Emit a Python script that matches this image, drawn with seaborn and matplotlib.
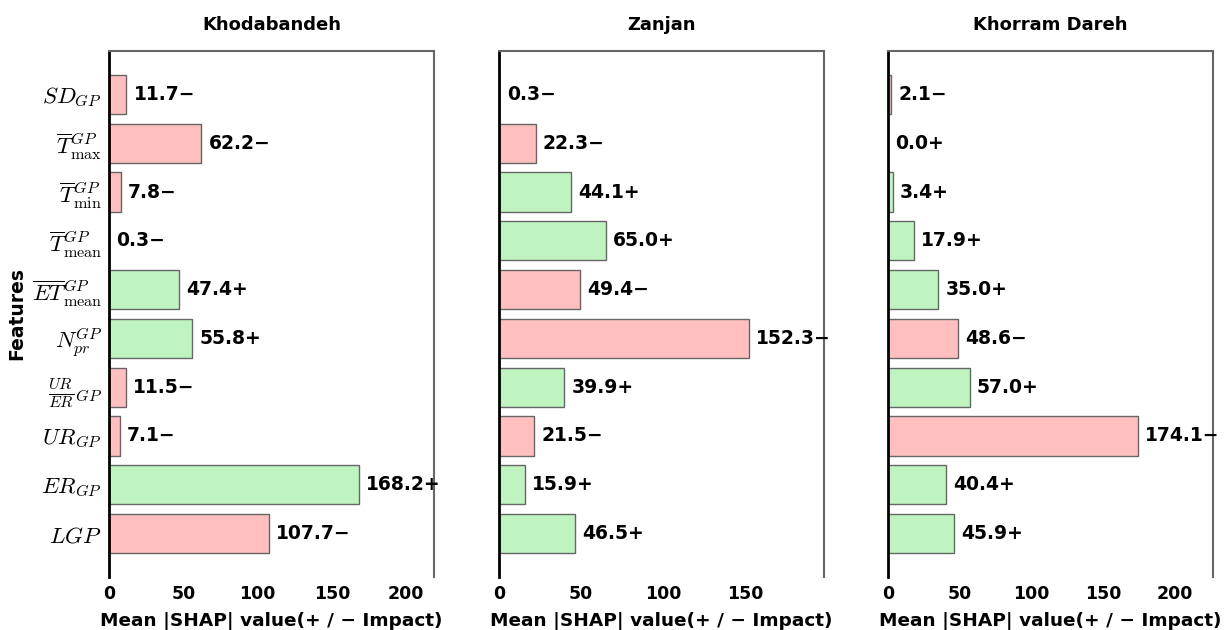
import matplotlib
matplotlib.use("Agg")
import matplotlib.pyplot as plt
import seaborn as sns
import pandas as pd

sns.set_style("white")
plt.rcParams['font.family'] = ['DejaVu Sans']
plt.rcParams['mathtext.fontset'] = 'cm'
for k in ['text.color', 'axes.labelcolor', 'xtick.color', 'ytick.color', 'axes.titlecolor']:
    plt.rcParams[k] = 'black'

features = [r"$SD_{GP}$", r"$\overline{T}^{GP}_{\max}$", r"$\overline{T}^{GP}_{\min}$",
            r"$\overline{T}^{GP}_{\mathrm{mean}}$", r"$\overline{ET}^{GP}_{\mathrm{mean}}$",
            r"$N^{GP}_{pr}$", r"$\frac{UR}{ER}_{GP}$", r"$UR_{GP}$", r"$ER_{GP}$", r"$LGP$"]

regions = ["Khodabandeh", "Zanjan", "Khorram Dareh"]

khodabandeh_vals = [11.7, 62.2, 7.8, 0.3, 47.4, 55.8, 11.5, 7.1, 168.2, 107.7]
khodabandeh_sign = ["-", "-", "-", "-", "+", "+", "-", "-", "+", "-"]
zanjan_vals = [0.3, 22.3, 44.1, 65.0, 49.4, 152.3, 39.9, 21.5, 15.9, 46.5]
zanjan_sign = ["-", "-", "+", "+", "-", "-", "+", "-", "+", "+"]
khorram_vals = [2.1, 0.0, 3.4, 17.9, 35.0, 48.6, 57.0, 174.1, 40.4, 45.9]
khorram_sign = ["-", "+", "+", "+", "+", "-", "+", "-", "+", "+"]

all_vals = [khodabandeh_vals, zanjan_vals, khorram_vals]
all_signs = [khodabandeh_sign, zanjan_sign, khorram_sign]
xticks_list = [[0, 50, 100, 150, 200], [0, 50, 100, 150], [0, 50, 100, 150, 200]]

palette = {"+": "#bff3bf", "-": "#ffbfbf"}

fig = plt.figure(figsize=(12.28, 6.3), dpi=100)
lefts = [109 / 1228, 499 / 1228, 888 / 1228]
W = 325 / 1228
B = 53 / 630
H = 526 / 630

n = len(features)
for i, (region, vals, signs) in enumerate(zip(regions, all_vals, all_signs)):
    ax = fig.add_axes([lefts[i], B, W, H])
    df = pd.DataFrame({"feature": features, "value": vals, "sign": signs})
    sns.barplot(data=df, x="value", y="feature", hue="sign", palette=palette,
                orient="h", dodge=False, legend=False, width=0.8, saturation=1,
                edgecolor="#666666", linewidth=1.0, ax=ax, order=features,
                hue_order=["+", "-"])
    xmax = max(vals) * 1.3
    ax.set_xlim(0, xmax)
    ax.set_ylim(n - 1 + 0.4 + 0.49, -0.4 - 0.49)
    for j, (v, s) in enumerate(zip(vals, signs)):
        lab = f"{v:.1f}" + ("+" if s == "+" else "\u2212")
        ax.text(v + xmax * 0.022, j, lab, va="center", ha="left",
                fontsize=13.5, fontweight="bold", color="black")
    ax.set_title(region, fontsize=13, fontweight="bold", pad=15)
    ax.set_xticks(xticks_list[i])
    ax.set_xticklabels([str(t) for t in xticks_list[i]], fontsize=12.5, fontweight="bold")
    ax.set_xlabel("Mean |SHAP| value(+ / \u2212 Impact)", fontsize=13.3, fontweight="bold", labelpad=6)
    ax.tick_params(axis="x", length=2, width=0.6, color="#999999", pad=4)
    ax.tick_params(axis="y", length=3, width=0.8, color="#444444", pad=2)
    if i == 0:
        ax.set_yticklabels(features, fontsize=16.5)
        ax.set_ylabel("Features", fontsize=13.5, fontweight="bold")
        ax.yaxis.set_label_coords(-0.255, 0.5)
    else:
        ax.set_yticklabels([])
        ax.set_ylabel("")
    ax.spines["left"].set_color("black")
    ax.spines["left"].set_linewidth(2)
    ax.spines["bottom"].set_visible(False)
    for sp in ["top", "right"]:
        ax.spines[sp].set_color("#666666")
        ax.spines[sp].set_linewidth(1.5)

fig.savefig("out.png", dpi=100)
